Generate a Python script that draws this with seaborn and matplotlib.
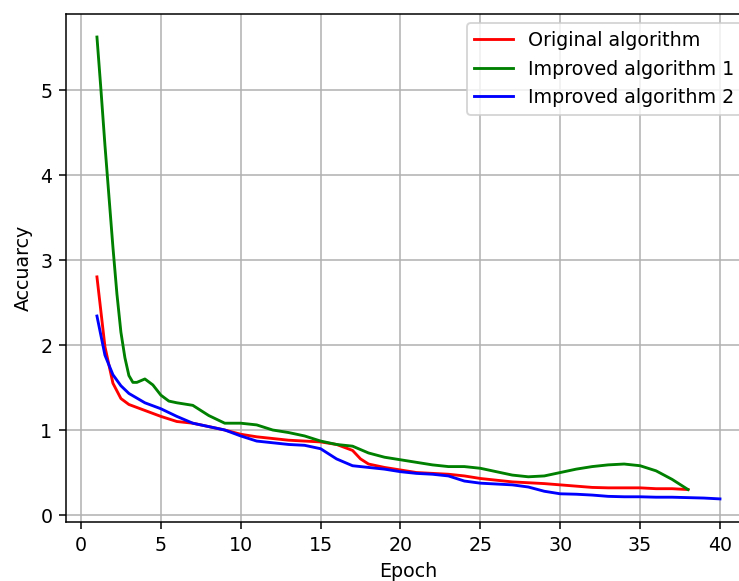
import matplotlib
matplotlib.use('Agg')
import matplotlib.pyplot as plt
import seaborn as sns
import pandas as pd

# values
epoch_orig = [1, 1.5, 2, 2.5, 3, 4, 5, 6, 7, 8, 9, 10, 11, 12, 13, 14, 15, 16, 17, 17.5,
              18, 19, 20, 21, 22, 23, 24, 25, 26, 27, 28, 29, 30, 31, 32, 33, 34, 35, 36, 37, 38]
acc_orig = [2.80, 1.98, 1.55, 1.37, 1.30, 1.23, 1.16, 1.10, 1.08, 1.04, 1.00, 0.95, 0.92, 0.90,
            0.88, 0.87, 0.86, 0.83, 0.76, 0.66, 0.60, 0.56, 0.53, 0.50, 0.49, 0.48, 0.46, 0.43,
            0.41, 0.39, 0.38, 0.37, 0.355, 0.34, 0.325, 0.32, 0.32, 0.32, 0.31, 0.31, 0.30]

epoch_imp1 = [1, 1.25, 1.5, 1.75, 2, 2.25, 2.5, 2.75, 3, 3.25, 3.5, 4, 4.5, 5, 5.5, 6, 7, 8, 9,
              10, 11, 12, 13, 14, 15, 16, 17, 18, 19, 20, 21, 22, 23, 24, 25, 26, 27, 28, 29,
              30, 31, 32, 33, 34, 35, 36, 37, 38]
acc_imp1 = [5.62, 5.0, 4.35, 3.75, 3.15, 2.6, 2.15, 1.85, 1.64, 1.56, 1.56, 1.60, 1.53, 1.41,
            1.34, 1.32, 1.29, 1.17, 1.08, 1.08, 1.06, 1.00, 0.97, 0.93, 0.87, 0.83, 0.81, 0.73,
            0.68, 0.65, 0.62, 0.59, 0.57, 0.57, 0.55, 0.51, 0.47, 0.45, 0.46, 0.50, 0.54, 0.57,
            0.59, 0.60, 0.58, 0.52, 0.42, 0.30]

epoch_imp2 = [1, 1.5, 2, 2.5, 3, 4, 5, 6, 7, 8, 9, 10, 11, 12, 13, 14, 15, 16, 17, 18, 19, 20,
              21, 22, 23, 24, 25, 26, 27, 28, 29, 30, 31, 32, 33, 34, 35, 36, 37, 38, 39, 40]
acc_imp2 = [2.34, 1.88, 1.65, 1.52, 1.43, 1.32, 1.25, 1.16, 1.08, 1.04, 1.00, 0.93, 0.87, 0.85,
            0.83, 0.82, 0.78, 0.66, 0.58, 0.56, 0.54, 0.51, 0.49, 0.48, 0.46, 0.40, 0.375,
            0.365, 0.355, 0.33, 0.28, 0.25, 0.245, 0.235, 0.22, 0.215, 0.215, 0.21, 0.21,
            0.205, 0.20, 0.19]

labels = ['Original algorithm', 'Improved algorithm 1', 'Improved algorithm 2']
colors = ['red', 'green', 'blue']

# reference looks like a default matplotlib figure scaled up ~1.37x
DPI = 137
fig = plt.figure(figsize=(739.3 / DPI, 581.3 / DPI), dpi=DPI)
# axes run past the right edge, as in the (cropped) reference
ax = fig.add_axes([0.089, 0.1015, 0.927, 0.874])

series = [(epoch_orig, acc_orig), (epoch_imp1, acc_imp1), (epoch_imp2, acc_imp2)]
for (ep, acc), lab, col in zip(series, labels, colors):
    df = pd.DataFrame({'Epoch': ep, 'Accuarcy': acc})
    sns.lineplot(data=df, x='Epoch', y='Accuarcy', color=col, label=lab, ax=ax, linewidth=1.5)

ax.set_xlabel('Epoch')
ax.set_ylabel('Accuarcy')
ax.set_xticks([0, 5, 10, 15, 20, 25, 30, 35, 40])
ax.grid(True)
ax.legend(loc='upper right')

plt.savefig('out.png', dpi=DPI)
